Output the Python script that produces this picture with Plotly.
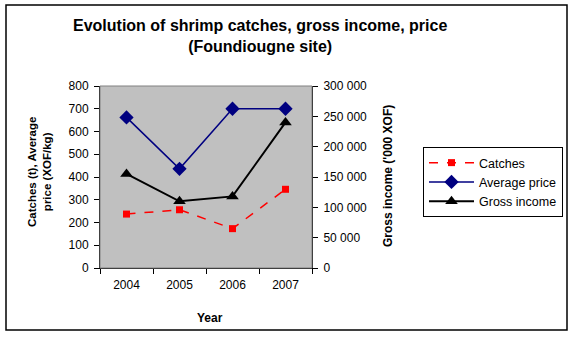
import plotly.graph_objects as go

years = ["2004", "2005", "2006", "2007"]
catches = [237, 256, 173, 346]
avg_price = [662, 436, 700, 700]
gross_income = [155000, 110000, 118000, 240000]

FONT = "Liberation Sans, Arial, sans-serif"

fig = go.Figure()
fig.add_trace(go.Scatter(
    x=years, y=catches, name="Catches", mode="lines+markers",
    line=dict(color="#FF0000", width=1.5, dash="dash"),
    marker=dict(symbol="square", size=7, color="#FF0000"),
))
fig.add_trace(go.Scatter(
    x=years, y=avg_price, name="Average price", mode="lines+markers",
    line=dict(color="#000080", width=1.5),
    marker=dict(symbol="diamond", size=11, color="#000080"),
))
fig.add_trace(go.Scatter(
    x=years, y=gross_income, name="Gross income", mode="lines+markers",
    line=dict(color="#000000", width=2),
    marker=dict(symbol="triangle-up", size=11, color="#000000"),
    yaxis="y2",
))

L, R, T, B = 100, 264, 86, 69
pw, ph = 576 - L - R, 337 - T - B

def px(x):
    return (x - L) / pw

def py(y):
    return (337 - B - y) / ph

fig.update_layout(
    width=576, height=337,
    margin=dict(l=L, r=R, t=T, b=B, pad=0),
    paper_bgcolor="white", plot_bgcolor="#C0C0C0",
    separators=". ",
    font=dict(family=FONT, size=12, color="black"),
    showlegend=True,
    legend=dict(
        x=px(563), y=py(147), xanchor="right", yanchor="top",
        bordercolor="black", borderwidth=1, bgcolor="white",
        font=dict(size=12.5, family=FONT), tracegroupgap=0,
        itemwidth=45,
    ),
    xaxis=dict(
        type="category", tickson="boundaries", ticks="outside", ticklen=5,
        tickcolor="black", showline=True, linecolor="black", linewidth=1,
        showgrid=False, zeroline=False, range=[-0.5, 3.5],
        tickfont=dict(size=12), ticklabelstandoff=6,
    ),
    yaxis=dict(
        range=[0, 800], dtick=100, ticks="outside", ticklen=5, tickcolor="black",
        showline=True, linecolor="black", linewidth=1, showgrid=False,
        zeroline=False, tickfont=dict(size=12), ticklabelstandoff=3,
    ),
    yaxis2=dict(
        range=[0, 300000], dtick=50000, tickformat=",d", overlaying="y",
        side="right", ticks="outside", ticklen=5, tickcolor="black",
        showline=True, linecolor="black", linewidth=1, showgrid=False,
        zeroline=False, tickfont=dict(size=12), ticklabelstandoff=3,
    ),
    shapes=[
        dict(type="rect", xref="paper", yref="paper",
             x0=px(6), x1=px(567), y0=py(330), y1=py(5),
             line=dict(color="black", width=1.5), fillcolor="rgba(0,0,0,0)", layer="below"),
        dict(type="rect", xref="paper", yref="paper", x0=0, x1=1, y0=0, y1=1,
             line=dict(color="#808080", width=1), fillcolor="rgba(0,0,0,0)"),
    ],
    annotations=[
        dict(text="<b>Evolution of shrimp catches, gross income, price<br>(Foundiougne site)</b>",
             xref="paper", yref="paper", x=px(260), y=py(36), showarrow=False,
             font=dict(size=16, family=FONT), align="center",
             xanchor="center", yanchor="middle"),
        dict(text="<b>Catches (t), Average<br>price (XOF/kg)</b>",
             xref="paper", yref="paper", x=px(39), y=py(172), showarrow=False,
             textangle=-90, font=dict(size=11.5, family=FONT),
             xanchor="center", yanchor="middle"),
        dict(text="<b>Gross income ('000 XOF)</b>",
             xref="paper", yref="paper", x=px(388), y=py(176), showarrow=False,
             textangle=-90, font=dict(size=12, family=FONT),
             xanchor="center", yanchor="middle"),
        dict(text="<b>Year</b>",
             xref="paper", yref="paper", x=px(210), y=py(318), showarrow=False,
             font=dict(size=12, family=FONT),
             xanchor="center", yanchor="middle"),
    ],
)

fig.write_html("out.html")
